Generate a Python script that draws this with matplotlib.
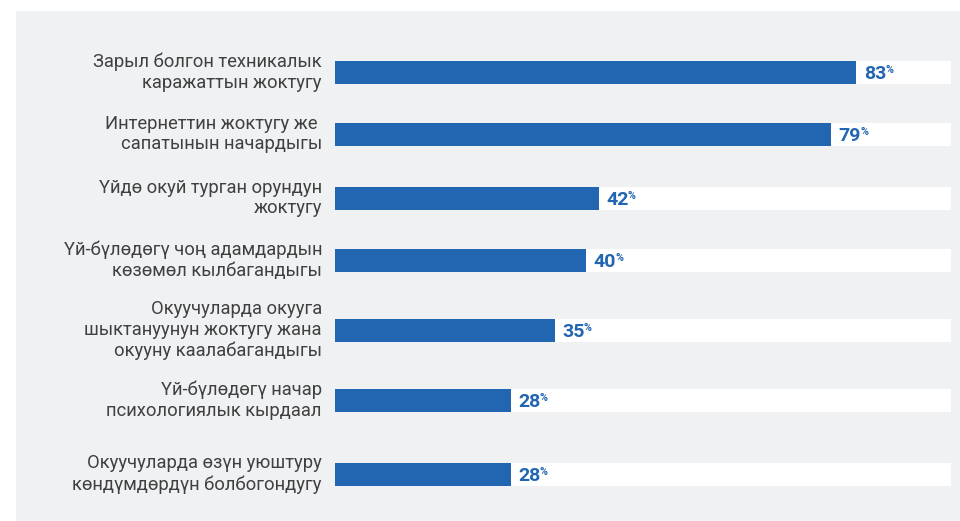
import matplotlib.pyplot as plt
from matplotlib.patches import Rectangle

# Daten
kategorien = [
    "Зарыл болгон техникалык\nкаражаттын жоктугу",
    "Интернеттин жоктугу же \nсапатынын начардыгы",
    "Үйдө окуй турган орундун\nжоктугу",
    "Үй-бүлөдөгү чоң адамдардын\nкөзөмөл кылбагандыгы",
    "Окуучуларда окууга\nшыктануунун жоктугу жана\nокууну каалабагандыгы",
    "Үй-бүлөдөгү начар\nпсихологиялык кырдаал",
    "Окуучуларда өзүн уюштуру\nкөндүмдөрдүн болбогондугу",
]
werte = [83, 79, 42, 40, 35, 28, 28]

# Layout (Pixel-Zeilen der Balkenmitten, von oben)
zeilen = [72, 134, 198, 260, 330, 400, 474]
spur_max = 98.1

blau = "#2265b1"
grau_bg = "#f0f1f3"
text_farbe = "#404040"

W, H = 960, 521
fig = plt.figure(figsize=(W / 100, H / 100), dpi=100)
fig.patch.set_facecolor("white")

# grauer Hintergrund
fig.patches.append(Rectangle((16 / W, 0), 1 - 16 / W, 1 - 11 / H,
                             transform=fig.transFigure, facecolor=grau_bg,
                             edgecolor="none", zorder=-10))

# Achse: x in Prozent, 0% bei x=335 px
x0 = 335 / W
px_pro_prozent = 6.28
ax = fig.add_axes([x0, 0, px_pro_prozent * 100 / W, 1])
ax.set_xlim(0, 100)
ax.set_ylim(H, 0)
ax.axis("off")

balken_h = 23
ax.barh(zeilen, [spur_max] * len(zeilen), height=balken_h, color="white", zorder=1)
ax.barh(zeilen, werte, height=balken_h, color=blau, zorder=2)

for y, w, kat in zip(zeilen, werte, kategorien):
    ax.annotate(kat, xy=(0, y), xytext=(-13, 0), textcoords="offset pixels",
                ha="right", va="center", fontsize=13.2, family="Roboto",
                color=text_farbe, linespacing=1.2, annotation_clip=False)
    ax.annotate(str(w), xy=(w, y), xytext=(7.5, -7), textcoords="offset pixels",
                ha="left", va="baseline", fontsize=14, family="Roboto",
                fontweight="bold", color=blau)
    ax.annotate("%", xy=(w, y), xytext=(29, -0.7), textcoords="offset pixels",
                ha="left", va="baseline", fontsize=7.8, family="Roboto",
                fontweight="bold", color=blau)

fig.savefig("out.png", dpi=100)
